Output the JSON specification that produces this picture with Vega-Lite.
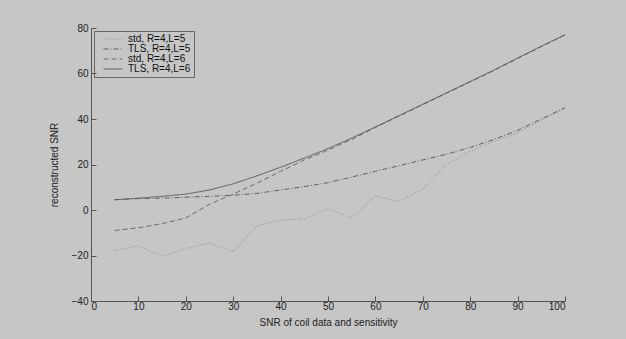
{
  "$schema": "https://vega.github.io/schema/vega-lite/v6.json",
  "width": 474,
  "height": 273,
  "autosize": "none",
  "padding": {"left": 91, "top": 28, "right": 61, "bottom": 38},
  "background": "#c6c6c6",
  "config": {
    "view": {"stroke": null},
    "font": "Liberation Sans",
    "axis": {"grid": false, "domainColor": "#555555", "tickColor": "#555555", "labelColor": "#222222", "titleColor": "#222222", "labelFontSize": 10, "titleFontSize": 10, "titleFontWeight": "normal", "tickSize": -5, "labelPadding": 8},
    "legend": {"title": null, "orient": "top-left", "offset": 3, "strokeColor": "#666666", "padding": 3, "labelFontSize": 10, "labelColor": "#111111", "symbolType": "M-2.1,0H2.1", "symbolSize": 81, "symbolStrokeWidth": 1, "rowPadding": 0, "symbolOffset": 11, "labelOffset": 10}
  },
  "data": {"values": [
    {"x": 5, "y": -17.7, "s": "std, R=4,L=5"},
    {"x": 10, "y": -15.8, "s": "std, R=4,L=5"},
    {"x": 15, "y": -20.4, "s": "std, R=4,L=5"},
    {"x": 20, "y": -16.9, "s": "std, R=4,L=5"},
    {"x": 25, "y": -14.6, "s": "std, R=4,L=5"},
    {"x": 30, "y": -18.2, "s": "std, R=4,L=5"},
    {"x": 35, "y": -7.0, "s": "std, R=4,L=5"},
    {"x": 40, "y": -4.4, "s": "std, R=4,L=5"},
    {"x": 45, "y": -3.8, "s": "std, R=4,L=5"},
    {"x": 50, "y": 0.6, "s": "std, R=4,L=5"},
    {"x": 55, "y": -3.5, "s": "std, R=4,L=5"},
    {"x": 60, "y": 6.1, "s": "std, R=4,L=5"},
    {"x": 65, "y": 3.7, "s": "std, R=4,L=5"},
    {"x": 70, "y": 9.1, "s": "std, R=4,L=5"},
    {"x": 75, "y": 20.0, "s": "std, R=4,L=5"},
    {"x": 80, "y": 25.9, "s": "std, R=4,L=5"},
    {"x": 85, "y": 30.2, "s": "std, R=4,L=5"},
    {"x": 90, "y": 33.9, "s": "std, R=4,L=5"},
    {"x": 95, "y": 39.5, "s": "std, R=4,L=5"},
    {"x": 100, "y": 44.5, "s": "std, R=4,L=5"},
    {"x": 5, "y": 4.5, "s": "TLS, R=4,L=5"},
    {"x": 10, "y": 5.0, "s": "TLS, R=4,L=5"},
    {"x": 15, "y": 5.2, "s": "TLS, R=4,L=5"},
    {"x": 20, "y": 5.6, "s": "TLS, R=4,L=5"},
    {"x": 25, "y": 6.0, "s": "TLS, R=4,L=5"},
    {"x": 30, "y": 6.5, "s": "TLS, R=4,L=5"},
    {"x": 35, "y": 7.3, "s": "TLS, R=4,L=5"},
    {"x": 40, "y": 8.8, "s": "TLS, R=4,L=5"},
    {"x": 45, "y": 10.3, "s": "TLS, R=4,L=5"},
    {"x": 50, "y": 12.0, "s": "TLS, R=4,L=5"},
    {"x": 55, "y": 14.5, "s": "TLS, R=4,L=5"},
    {"x": 60, "y": 17.0, "s": "TLS, R=4,L=5"},
    {"x": 65, "y": 19.5, "s": "TLS, R=4,L=5"},
    {"x": 70, "y": 22.0, "s": "TLS, R=4,L=5"},
    {"x": 75, "y": 24.5, "s": "TLS, R=4,L=5"},
    {"x": 80, "y": 27.5, "s": "TLS, R=4,L=5"},
    {"x": 85, "y": 31.0, "s": "TLS, R=4,L=5"},
    {"x": 90, "y": 35.0, "s": "TLS, R=4,L=5"},
    {"x": 95, "y": 40.0, "s": "TLS, R=4,L=5"},
    {"x": 100, "y": 45.0, "s": "TLS, R=4,L=5"},
    {"x": 5, "y": -9.0, "s": "std, R=4,L=6"},
    {"x": 10, "y": -7.8, "s": "std, R=4,L=6"},
    {"x": 15, "y": -6.0, "s": "std, R=4,L=6"},
    {"x": 20, "y": -3.5, "s": "std, R=4,L=6"},
    {"x": 25, "y": 2.5, "s": "std, R=4,L=6"},
    {"x": 30, "y": 7.0, "s": "std, R=4,L=6"},
    {"x": 35, "y": 11.8, "s": "std, R=4,L=6"},
    {"x": 40, "y": 17.0, "s": "std, R=4,L=6"},
    {"x": 45, "y": 22.0, "s": "std, R=4,L=6"},
    {"x": 50, "y": 26.3, "s": "std, R=4,L=6"},
    {"x": 55, "y": 31.0, "s": "std, R=4,L=6"},
    {"x": 60, "y": 36.3, "s": "std, R=4,L=6"},
    {"x": 65, "y": 41.3, "s": "std, R=4,L=6"},
    {"x": 70, "y": 46.3, "s": "std, R=4,L=6"},
    {"x": 75, "y": 51.3, "s": "std, R=4,L=6"},
    {"x": 80, "y": 56.3, "s": "std, R=4,L=6"},
    {"x": 85, "y": 61.3, "s": "std, R=4,L=6"},
    {"x": 90, "y": 66.6, "s": "std, R=4,L=6"},
    {"x": 95, "y": 71.8, "s": "std, R=4,L=6"},
    {"x": 100, "y": 77.0, "s": "std, R=4,L=6"},
    {"x": 5, "y": 4.5, "s": "TLS, R=4,L=6"},
    {"x": 10, "y": 5.2, "s": "TLS, R=4,L=6"},
    {"x": 15, "y": 6.0, "s": "TLS, R=4,L=6"},
    {"x": 20, "y": 7.0, "s": "TLS, R=4,L=6"},
    {"x": 25, "y": 8.8, "s": "TLS, R=4,L=6"},
    {"x": 30, "y": 11.5, "s": "TLS, R=4,L=6"},
    {"x": 35, "y": 15.0, "s": "TLS, R=4,L=6"},
    {"x": 40, "y": 18.8, "s": "TLS, R=4,L=6"},
    {"x": 45, "y": 22.8, "s": "TLS, R=4,L=6"},
    {"x": 50, "y": 27.0, "s": "TLS, R=4,L=6"},
    {"x": 55, "y": 31.6, "s": "TLS, R=4,L=6"},
    {"x": 60, "y": 36.5, "s": "TLS, R=4,L=6"},
    {"x": 65, "y": 41.5, "s": "TLS, R=4,L=6"},
    {"x": 70, "y": 46.5, "s": "TLS, R=4,L=6"},
    {"x": 75, "y": 51.5, "s": "TLS, R=4,L=6"},
    {"x": 80, "y": 56.5, "s": "TLS, R=4,L=6"},
    {"x": 85, "y": 61.5, "s": "TLS, R=4,L=6"},
    {"x": 90, "y": 66.8, "s": "TLS, R=4,L=6"},
    {"x": 95, "y": 72.0, "s": "TLS, R=4,L=6"},
    {"x": 100, "y": 77.0, "s": "TLS, R=4,L=6"}
  ]},
  "mark": {"type": "line", "strokeWidth": 1},
  "encoding": {
    "x": {"field": "x", "type": "quantitative", "scale": {"domain": [0, 100], "nice": false, "zero": false},
          "axis": {"values": [0, 10, 20, 30, 40, 50, 60, 70, 80, 90, 100], "title": "SNR of coil data and sensitivity", "titlePadding": 6, "labelPadding": 5}},
    "y": {"field": "y", "type": "quantitative", "scale": {"domain": [-40, 80], "nice": false},
          "axis": {"values": [-40, -20, 0, 20, 40, 60, 80], "title": "reconstructed SNR", "titlePadding": 12}},
    "color": {"field": "s", "type": "nominal",
              "scale": {"domain": ["std, R=4,L=5", "TLS, R=4,L=5", "std, R=4,L=6", "TLS, R=4,L=6"], "range": ["#8c8c8c", "#606060", "#6a6a6a", "#5a5a5a"]}},
    "strokeDash": {"field": "s", "type": "nominal",
              "scale": {"domain": ["std, R=4,L=5", "TLS, R=4,L=5", "std, R=4,L=6", "TLS, R=4,L=6"], "range": [[1, 2], [5, 2, 1, 2], [5, 3], [1, 0]]}}
  }
}
